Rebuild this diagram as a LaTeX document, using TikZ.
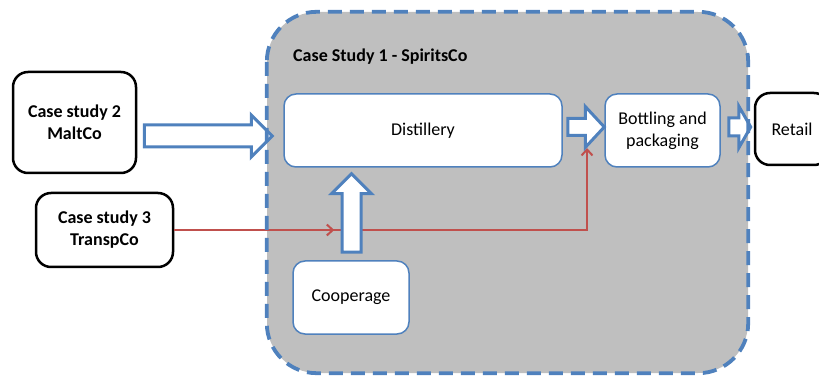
\documentclass[tikz,border=0pt]{standalone}
\usepackage{fontspec}
\setmainfont{Carlito}
\usetikzlibrary{calc}
\usetikzlibrary{arrows.meta}
\usetikzlibrary{decorations.markings}
\definecolor{boxblue}{RGB}{79,129,189}
\definecolor{studygray}{RGB}{191,191,191}
\definecolor{flowred}{RGB}{192,80,77}
\tikzset{
  study box/.style={rectangle,rounded corners=50pt,fill=studygray,minimum width=481pt,minimum height=361pt,inner sep=0pt},
  study line/.style={draw=boxblue,line width=3.8pt,dash pattern=on 14pt off 8pt,rounded corners=50pt},
  stage node/.style={rectangle,rounded corners=12pt,draw=boxblue,line width=1.5pt,fill=white,inner sep=0pt,align=center,font=\fontsize{18}{22}\selectfont},
  partner node/.style={rectangle,rounded corners=15pt,draw=black,line width=2.5pt,fill=white,inner sep=0pt,align=center,font=\bfseries\fontsize{18}{22}\selectfont},
  fat arrow/.style={draw=boxblue,line width=3pt,fill=white,line join=miter},
  red flow/.style={draw=flowred,line width=2pt,-{Straight Barb[length=6pt,width=11pt]},
    postaction={decorate},
    decoration={markings,mark=at position 160pt with {\arrow{Straight Barb[length=6pt,width=11pt]}}}}
}
% tail, tip, half shaft, half head, head length
\newcommand{\blockarrow}[5]{%
  \coordinate (hb) at ($(#2)!#5!(#1)$);
  \draw[fat arrow] ($(#1)!#3!90:(#2)$) -- ($(hb)!#3!90:(#2)$) -- ($(hb)!#4!90:(#2)$)
    -- (#2) -- ($(hb)!#4!-90:(#2)$) -- ($(hb)!#3!-90:(#2)$) -- ($(#1)!#3!-90:(#2)$) -- cycle;
}

\begin{document}
\begin{tikzpicture}[x=1pt,y=-1pt]
  \useasboundingbox (0,0) rectangle (819,379);
  \node [study box] (study) at (507.5,192.5) {};
  \node [font=\bfseries\fontsize{18}{22}\selectfont,anchor=west,inner sep=0pt] (title) at (293,57) {Case Study 1 - SpiritsCo};

  \node [partner node,minimum width=123pt,minimum height=101pt] (malt) at (74.5,122.5) {Case study 2\\MaltCo};
  \node [partner node,minimum width=137pt,minimum height=74pt] (transp) at (104.5,230) {Case study 3\\TranspCo};
  \node [partner node,font=\fontsize{18}{22}\selectfont,minimum width=74pt,minimum height=72pt] (retail) at (792,129) {Retail};

  \node [stage node,minimum width=278pt,minimum height=73pt] (distil) at (423,130.5) {Distillery};
  \node [stage node,minimum width=115pt,minimum height=73pt] (bottle) at (662.5,130.5) {Bottling and\\packaging};
  \node [stage node,minimum width=116pt,minimum height=73pt] (coop) at (351,297.5) {Cooperage};

  % transport flow
  \coordinate (flowend) at (587,148);
  \draw [red flow] (transp.east) -| (flowend);

  % material flows
  \blockarrow{$(malt.east)+(7,13.5)$}{$(distil.west)+(-11,5.5)$}{11pt}{21pt}{21pt}
  \blockarrow{$(coop.north)+(0.5,-8)$}{$(coop.north |- distil.south)+(0.5,6)$}{9.5pt}{20pt}{20pt}
  \blockarrow{$(distil.east)+(5,-3.5)$}{$(bottle.west)+(0,-3.5)$}{8.5pt}{20.5pt}{19pt}
  \blockarrow{$(bottle.east)+(8,-3.5)$}{$(retail.west)+(-3,-2)$}{9pt}{21pt}{12pt}

  \draw [study line] (study.north west) rectangle (study.south east);
\end{tikzpicture}
\end{document}
